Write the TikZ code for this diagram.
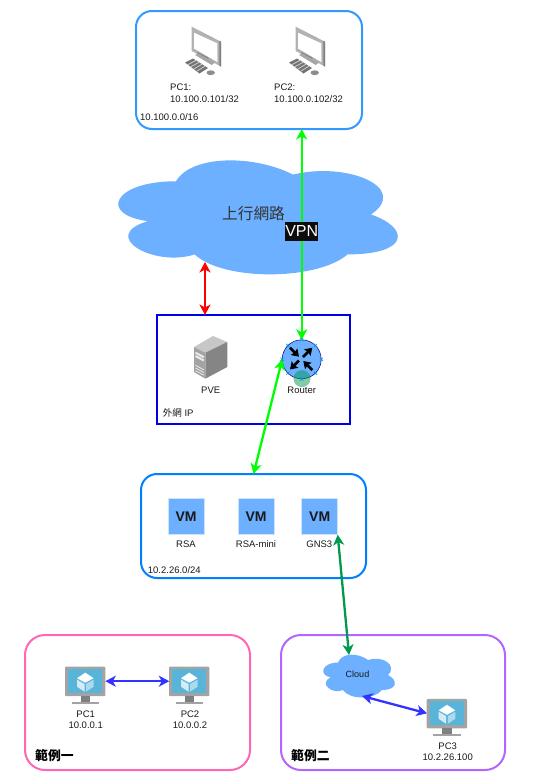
\documentclass[tikz,border=0pt]{standalone}
\usepackage{fontspec}
\setmainfont{Liberation Sans}
\newfontfamily\cjk{Noto Sans CJK TC}
\usepackage{xcolor}
\usetikzlibrary{arrows.meta,positioning,calc}
\definecolor{azulRede}{RGB}{51,153,255}
\definecolor{azulVM}{RGB}{0,127,255}
\definecolor{azulNuvem}{RGB}{108,176,255}
\definecolor{azulBorda}{RGB}{204,229,255}
\definecolor{azulTela}{RGB}{89,180,217}
\definecolor{azulLink}{RGB}{51,51,255}
\definecolor{rosaCaixa}{RGB}{255,102,179}
\definecolor{roxoCaixa}{RGB}{178,102,255}
\definecolor{verdeVivo}{RGB}{0,255,0}
\definecolor{verdeEscuro}{RGB}{0,153,77}
\tikzset{
  caixarede/.style={rectangle, line width=2pt, rounded corners=16pt, inner sep=0pt, outer sep=0pt},
  caixaip/.style={rectangle, draw=blue!90!black, line width=2pt, inner sep=0pt, outer sep=0pt},
  rotulo/.style={font=\fontsize{9.5}{11.7}\selectfont, inner sep=0pt, align=center, text=black!90},
  rotuloesq/.style={rotulo, anchor=west, align=left},
  titulo/.style={font=\cjk\bfseries\fontsize{12.8}{15}\selectfont, inner sep=0pt, anchor=west},
  tilevm/.style={rectangle, fill=azulNuvem, draw=azulBorda, line width=0.8pt, minimum size=36pt,
                 inner sep=0pt, outer sep=0pt, font=\bfseries\fontsize{14}{16}\selectfont, text=black!90},
  icone/.style={rectangle, inner sep=0pt, outer sep=0pt, minimum width=40pt, minimum height=29pt},
  seta/.style={{Stealth[length=10.5pt,width=11pt,inset=3pt]}-{Stealth[length=10.5pt,width=11pt,inset=3pt]}, line width=2.3pt},
  setinha/.style={-{Stealth[length=7pt,width=9pt,inset=1pt]}, line width=2.6pt},
  alca/.style={draw=cyan!75!blue, line width=0.6pt},
  desktop/.pic={
    \fill[black!30] (1.7,0.7) -- (31,15.7) -- (31,40.5) -- (1.7,25) -- cycle;
    \fill[black!50] (29.3,14.8) -- (31,15.7) -- (31,40.5) -- (29.3,39.6) -- cycle;
    \fill[white] (4,6.7) -- (27.3,17.3) -- (27.3,36) -- (4,22.5) -- cycle;
    \fill[black!50] (7.3,26) -- (18.3,31.6) -- (18.3,35) -- (7.3,29) -- cycle;
    \fill[black!35] (5,29) -- (8.3,27.4) -- (25,36.4) -- (21.7,39) -- cycle;
    \fill[black!55] (-5,36.5) -- (3,32.5) -- (18,42) -- (9.5,47.5) -- cycle;
    \foreach \k in {0.2,0.4,0.6,0.8} {
      \draw[black!18, line width=0.8pt] ($(-5,36.5)!\k!(9.5,47.5)$) -- ($(3,32.5)!\k!(18,42)$);
    }
    \fill[black!45] (20.7,46.7) ellipse[x radius=4.2, y radius=2.4];
  },
  servidor/.pic={
    \fill[black!22] (194,347) -- (213,336) -- (227.3,342) -- (205.3,352.7) -- cycle;
    \fill[black!48] (205.3,352.7) -- (227.3,342) -- (227.3,367) -- (205.3,378.7) -- cycle;
    \fill[black!36] (194,347) -- (205.3,352.7) -- (205.3,378.7) -- (194,372) -- cycle;
    \foreach \h/\w in {0.7/2,4/2,13.3/0.8,16/0.8,18.7/0.8} {
      \draw[black!8, line width=\w pt] (195.5,352+\h) -- (203.8,356.5+\h);
    }
  },
  tela/.pic={
    \fill[black!36, rounded corners=1pt] (-20.3,-14.5) rectangle (20,15);
    \fill[azulTela] (-17,-12.2) rectangle (16.7,11.5);
    \fill[black!50] (-4.6,15) rectangle (5,20.5);
    \fill[black!36] (-13.6,20.5) rectangle (13.7,23);
    \fill[yellow!70!green] (0,-13.3) circle (0.6);
    \fill[white] (0,-8.5) -- (8.3,-3) -- (0,1.5) -- (-8.3,-3) -- cycle;
    \fill[white!75!azulTela] (-8.3,-1.5) -- (-0.8,2.8) -- (-0.8,10.5) -- (-8.3,5.5) -- cycle;
    \fill[white!50!azulTela] (8.3,-1.5) -- (0.8,2.8) -- (0.8,10.5) -- (8.3,5.5) -- cycle;
  },
}
\newcommand{\desenhanuvem}[4]{
  \fill[azulNuvem, shift={(#1,#2)}, xscale=#3, yscale=#4]
    (.25,.25) .. controls (.05,.25) and (0,.5) .. (.16,.55)
    .. controls (0,.66) and (.18,.9) .. (.31,.8)
    .. controls (.4,1) and (.7,1) .. (.8,.8)
    .. controls (1,.8) and (1,.6) .. (.875,.5)
    .. controls (1,.3) and (.8,.1) .. (.625,.2)
    .. controls (.5,.05) and (.3,.05) .. (.25,.25) -- cycle;
}

\begin{document}
\begin{tikzpicture}[x=1pt, y=-1pt]
  \useasboundingbox (0,0) rectangle (533,782);

  \desenhanuvem{98}{148}{312}{133}
  \desenhanuvem{318}{650}{80}{50}
  \coordinate (wanbaixo) at (205,262);
  \coordinate (nuvemtopo) at (349,655);
  \coordinate (nuvembaixo) at (362,696);

  \node[caixarede, draw=azulRede, minimum width=226pt, minimum height=118pt] (redetopo) at (249,70) {};
  \node[caixaip, minimum width=193pt, minimum height=109pt] (redeip) at (253.5,369.5) {};
  \node[caixarede, draw=azulVM, minimum width=225pt, minimum height=104pt] (redevm) at (253.5,526) {};
  \node[caixarede, draw=rosaCaixa, minimum width=225pt, minimum height=135pt, rounded corners=20pt] (exemplo1) at (137.5,702.5) {};
  \node[caixarede, draw=roxoCaixa, minimum width=224pt, minimum height=135pt, rounded corners=20pt] (exemplo2) at (393,702.5) {};

  \pic at (190,26) {desktop};
  \pic at (294,26) {desktop};
  \node[rotuloesq] (pc1top) at (170,93) {PC1:\\10.100.0.101/32};
  \node[rotuloesq] (pc2top) at (274,93) {PC2:\\10.100.0.102/32};
  \node[rotuloesq] (rede100) at (140,117) {10.100.0.0/16};

  \node[font=\cjk\fontsize{15.7}{18}\selectfont, text=black!80, inner sep=0pt] (wan) at (253.5,213.5) {上行網路};

  \pic at (0,0) {servidor};
  \node[rotulo] (pve) at (210.7,390) {PVE};
  \node[circle, fill=azulNuvem, draw=blue!50!black, line width=0.5pt, minimum size=39pt, inner sep=0pt, outer sep=0pt] (router) at (301.7,359.3) {};
  \fill[verdeEscuro, opacity=0.5] (302,378.6) circle (8.5);
  \draw[setinha] (290,347.7) -- (299,356.7);
  \draw[setinha] (303,357) -- (312.3,347.7);
  \draw[setinha] (299,360.5) -- (290,369.5);
  \draw[setinha] (312.3,370) -- (303.3,361);
  \foreach \a in {0,45,...,315} {
    \draw[alca] ($(router.center)+(\a:19.7)+(-1.6,-1.6)$) -- ++(3.2,3.2);
    \draw[alca] ($(router.center)+(\a:19.7)+(-1.6,1.6)$) -- ++(3.2,-3.2);
  }
  \node[rotulo] (routerlabel) at (301.7,390) {Router};
  \node[rotuloesq] (externo) at (162.7,413) {{\cjk 外網} IP};

  \node[tilevm] (vm1) at (186,516.7) {VM};
  \node[tilevm] (vm2) at (256,516.7) {VM};
  \node[tilevm] (vm3) at (319.7,516.7) {VM};
  \node[rotulo] (rsa) at (186,544.3) {RSA};
  \node[rotulo] (rsamini) at (256,544.3) {RSA-mini};
  \node[rotulo] (gns3) at (319.3,544.3) {GNS3};
  \node[rotuloesq] (rede26) at (147.7,570) {10.2.26.0/24};

  \node[icone] (pc1) at (85.3,681.2) {};
  \node[icone] (pc2) at (189.3,681.2) {};
  \node[icone] (pc3) at (447,713.3) {};
  \pic at (pc1) {tela};
  \pic at (pc2) {tela};
  \pic at (pc3) {tela};
  \node[rotulo] (pc1label) at (85.7,719.8) {PC1\\10.0.0.1};
  \node[rotulo] (pc2label) at (190,719.8) {PC2\\10.0.0.2};
  \node[rotulo] (pc3label) at (447.7,751.8) {PC3\\10.2.26.100};
  \node[rotulo, font=\fontsize{9}{11}\selectfont] (nuvem) at (357.5,674.5) {Cloud};
  \node[titulo] (titulo1) at (35,756) {範例一};
  \node[titulo] (titulo2) at (291,756) {範例二};

  \draw[seta, red] (wanbaixo) -- (wanbaixo |- redeip.north);
  \draw[seta, verdeVivo] (redetopo.south -| router.north) -- node[pos=0.4845, fill=black!95, text=white, inner sep=0pt,
       minimum width=33pt, minimum height=19pt, font=\fontsize{16}{18}\selectfont] (vpn) {VPN} (router.north);
  \draw[seta, verdeVivo] (redevm.north) -- (router.west);
  \draw[seta, verdeEscuro] (vm3.south east) -- (nuvemtopo);
  \draw[seta, azulLink] (pc1.east) -- (pc2.west);
  \draw[seta, azulLink] (nuvembaixo) -- (pc3.west);
\end{tikzpicture}
\end{document}
